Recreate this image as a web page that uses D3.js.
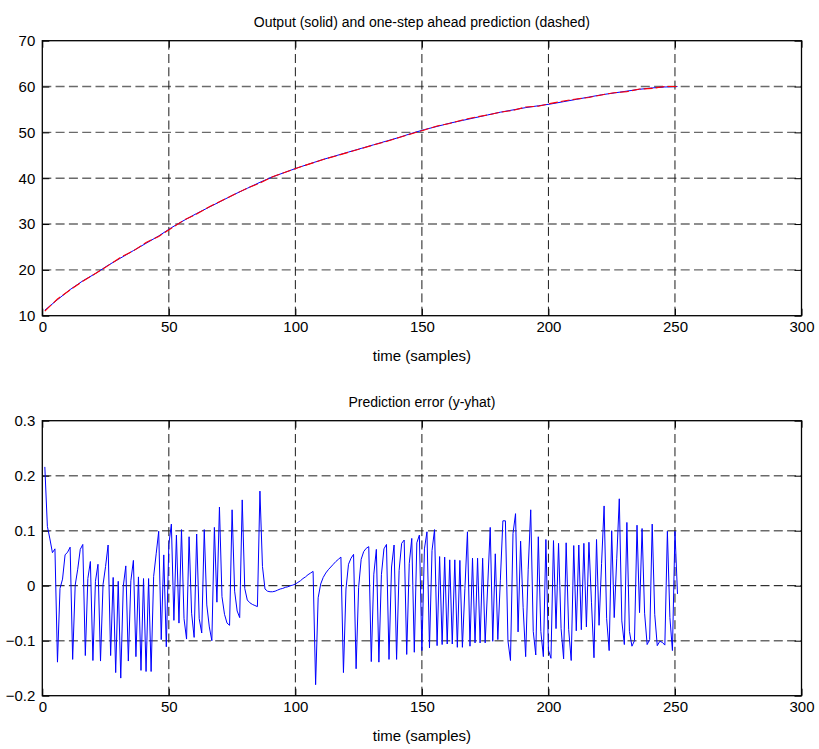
<!DOCTYPE html>
<html>
<head>
<meta charset="utf-8">
<script src="https://cdn.jsdelivr.net/npm/d3@7"></script>
<style>
  html, body { margin: 0; padding: 0; background: #fff; }
  svg { display: block; font-family: "Liberation Sans", Arial, sans-serif; }
</style>
</head>
<body>
<svg id="fig" width="819" height="749"></svg>
<script>
// ---- data -------------------------------------------------------------
// Measured plant output, sampled every 5 samples (sample index, value)
const outputTimes = [1, 6, 11, 16, 21, 26, 31, 36, 41, 46, 51, 56, 61, 66, 71, 76, 81, 86, 91, 96,
  101, 106, 111, 116, 121, 126, 131, 136, 141, 146, 151, 156, 161, 166, 171, 176, 181, 186, 191, 196,
  201, 206, 211, 216, 221, 226, 231, 236, 241, 246, 251];
const outputValues = [11.2, 13.5, 15.7, 17.6, 19.2, 21.0, 22.6, 24.2, 25.8, 27.4, 29.2, 30.8, 32.3, 33.7,
  35.1, 36.5, 37.8, 39.1, 40.3, 41.3, 42.3, 43.2, 44.1, 44.9, 45.7, 46.5, 47.3, 48.1, 48.9, 49.8,
  50.6, 51.3, 52.0, 52.6, 53.2, 53.8, 54.4, 54.9, 55.4, 55.8, 56.2, 56.7, 57.2, 57.7, 58.2, 58.6,
  59.0, 59.4, 59.7, 59.9, 60.0];

// One-step-ahead prediction error y - yhat for samples 1..251
const errorValues = [
  0.216, 0.108, 0.085, 0.060, 0.067, -0.139, -0.005, 0.012, 0.056, 0.061,
  0.070, -0.134, 0.001, 0.030, 0.066, 0.075, -0.127, 0.013, 0.044, -0.136,
  0.008, 0.039, -0.137, 0.002, 0.035, 0.074, -0.127, 0.015, -0.158, 0.008,
  -0.168, -0.001, 0.036, -0.137, 0.009, 0.046, -0.129, 0.016, -0.154, 0.013,
  -0.156, 0.013, -0.156, 0.017, 0.058, 0.099, -0.098, 0.056, -0.111, 0.075,
  0.112, -0.063, 0.092, -0.068, 0.102, -0.060, -0.097, 0.089, -0.050, -0.094,
  0.094, -0.060, -0.086, 0.102, -0.035, -0.075, -0.100, 0.106, -0.030, 0.143,
  -0.020, -0.052, -0.068, -0.072, 0.138, -0.010, -0.046, -0.058, 0.156, -0.005,
  -0.026, -0.031, -0.034, -0.036, -0.038, 0.172, 0.035, -0.006, -0.010, -0.011,
  -0.011, -0.010, -0.008, -0.006, -0.005, -0.003, -0.002, 0.000, 0.001, 0.003,
  0.006, 0.009, 0.013, 0.016, 0.020, 0.023, 0.026, -0.180, -0.022, 0.003,
  0.015, 0.023, 0.029, 0.034, 0.039, 0.044, 0.048, 0.052, -0.158, -0.006,
  0.039, 0.050, 0.057, -0.151, -0.003, 0.048, 0.062, 0.068, 0.071, -0.138,
  0.021, 0.066, -0.139, 0.020, 0.067, 0.075, -0.134, 0.034, 0.074, -0.134,
  0.028, 0.077, 0.083, -0.125, 0.040, 0.086, -0.121, 0.078, 0.092, -0.118,
  0.067, 0.098, -0.113, 0.064, 0.102, -0.109, 0.053, -0.107, 0.052, -0.106,
  0.047, -0.106, 0.047, -0.112, 0.046, -0.112, -0.005, 0.098, -0.110, 0.050,
  -0.104, 0.050, -0.104, 0.050, -0.104, 0.000, 0.106, -0.101, 0.058, -0.098,
  0.010, 0.118, 0.118, -0.100, -0.136, 0.095, 0.131, -0.084, 0.081, -0.040,
  -0.129, 0.030, 0.138, -0.083, -0.126, 0.089, -0.083, -0.129, 0.084, -0.117,
  -0.132, 0.082, -0.078, 0.077, -0.078, -0.133, 0.078, -0.080, -0.136, 0.073,
  -0.082, 0.074, -0.080, 0.077, -0.075, 0.079, -0.030, -0.131, 0.084, -0.072,
  0.040, 0.145, -0.060, -0.118, 0.100, -0.058, 0.050, 0.158, -0.064, -0.107,
  0.115, -0.083, -0.110, -0.100, 0.110, -0.049, 0.104, -0.050, -0.107, -0.098,
  0.112, -0.052, -0.109, -0.101, -0.103, -0.108, 0.099, -0.058, -0.118, 0.099,
  -0.015
];
const errorFirstSample = 1;

const xTicks = [0, 50, 100, 150, 200, 250, 300];
const outputTicks = [10, 20, 30, 40, 50, 60, 70];
const errorTicks = [-0.2, -0.1, 0, 0.1, 0.2, 0.3];

const topTitle = "Output (solid) and one-step ahead prediction (dashed)";
const bottomTitle = "Prediction error (y-yhat)";
const xLabel = "time (samples)";

// ---- derived series ---------------------------------------------------
const errorSeries = errorValues.map((e, i) => ({ t: errorFirstSample + i, v: e }));
const errAt = t => errorValues[t - errorFirstSample] ?? 0;
const outputSeries = outputTimes.map((t, i) => ({ t, v: outputValues[i] }));
// prediction = measured output minus prediction error
const predictionSeries = outputTimes.map((t, i) => ({ t, v: outputValues[i] - errAt(t) }));

// ---- layout -----------------------------------------------------------
const svg = d3.select("#fig");
const left = 42.3, right = 801.5, tick = 7;

function panel(top, bottom, yDomain, yTicksList, title, yFmt) {
  const g = svg.append("g");
  const x = d3.scaleLinear().domain([0, 300]).range([left, right]);
  const y = d3.scaleLinear().domain(yDomain).range([bottom, top]);

  // grid
  const grid = g.append("g").attr("fill", "none");
  grid.selectAll("line.h").data(yTicksList.filter(v => v > yDomain[0] && v < yDomain[1]))
    .join("line").attr("class", "h")
    .attr("x1", left).attr("x2", right)
    .attr("y1", d => y(d)).attr("y2", d => y(d))
    .attr("stroke", d => d === 0 ? "#000" : "#6a6a6a")
    .attr("stroke-width", d => d === 0 ? 1 : 1.4)
    .attr("stroke-dasharray", "9,4.3");
  grid.selectAll("line.v").data(xTicks.filter(v => v > 0 && v < 300))
    .join("line").attr("class", "v")
    .attr("x1", d => x(d)).attr("x2", d => x(d))
    .attr("y1", top).attr("y2", bottom)
    .attr("stroke", "#1a1a1a").attr("stroke-width", 1)
    .attr("stroke-dasharray", "9,4.3");

  // axes with inward ticks on all four sides
  const fs = "15px";
  g.append("g").attr("transform", `translate(${left},0)`)
    .call(d3.axisLeft(y).tickValues(yTicksList).tickFormat(yFmt).tickSizeInner(-tick).tickSizeOuter(0).tickPadding(7))
    .call(a => a.selectAll("text").attr("font-size", fs).attr("fill", "#000").attr("font-family", "Liberation Sans, Arial, sans-serif"));
  g.append("g").attr("transform", `translate(${right},0)`)
    .call(d3.axisRight(y).tickValues(yTicksList).tickFormat("").tickSizeInner(-tick).tickSizeOuter(0));
  g.append("g").attr("transform", `translate(0,${bottom})`)
    .call(d3.axisBottom(x).tickValues(xTicks).tickFormat(d3.format("d")).tickSizeInner(-tick).tickSizeOuter(0).tickPadding(6))
    .call(a => a.selectAll("text").attr("font-size", fs).attr("fill", "#000").attr("font-family", "Liberation Sans, Arial, sans-serif"));
  g.append("g").attr("transform", `translate(0,${top})`)
    .call(d3.axisTop(x).tickValues(xTicks).tickFormat("").tickSizeInner(-tick).tickSizeOuter(0));
  g.selectAll(".domain").remove();
  g.selectAll(".tick line").attr("stroke", "#000");

  // frame
  g.append("rect").attr("x", left).attr("y", top)
    .attr("width", right - left).attr("height", bottom - top)
    .attr("fill", "none").attr("stroke", "#000").attr("stroke-width", 1.3);

  // title and x label
  g.append("text").attr("x", (left + right) / 2).attr("y", top - 14)
    .attr("text-anchor", "middle").attr("font-size", "14px").text(title);
  g.append("text").attr("x", (left + right) / 2).attr("y", bottom + 45)
    .attr("text-anchor", "middle").attr("font-size", "15px").text(xLabel);

  return { g, x, y };
}

// ---- top panel: output and prediction ---------------------------------
const p1 = panel(40.7, 315.7, [10, 70], outputTicks, topTitle, d3.format("d"));
const line1 = d3.line().x(d => p1.x(d.t)).y(d => p1.y(d.v));
p1.g.append("path").datum(outputSeries).attr("d", line1)
  .attr("fill", "none").attr("stroke", "#0000ff").attr("stroke-width", 1);
p1.g.append("path").datum(predictionSeries).attr("d", line1)
  .attr("fill", "none").attr("stroke", "#ff0000").attr("stroke-width", 1.1)
  .attr("stroke-dasharray", "9,3");

// ---- bottom panel: prediction error -----------------------------------
const p2 = panel(420.7, 695.7, [-0.2, 0.3], errorTicks, bottomTitle, d => d === 0 ? "0" : d3.format(".1f")(d));
const line2 = d3.line().x(d => p2.x(d.t)).y(d => p2.y(d.v));
p2.g.append("path").datum(errorSeries).attr("d", line2)
  .attr("fill", "none").attr("stroke", "#0000ff").attr("stroke-width", 1);
</script>
</body>
</html>
